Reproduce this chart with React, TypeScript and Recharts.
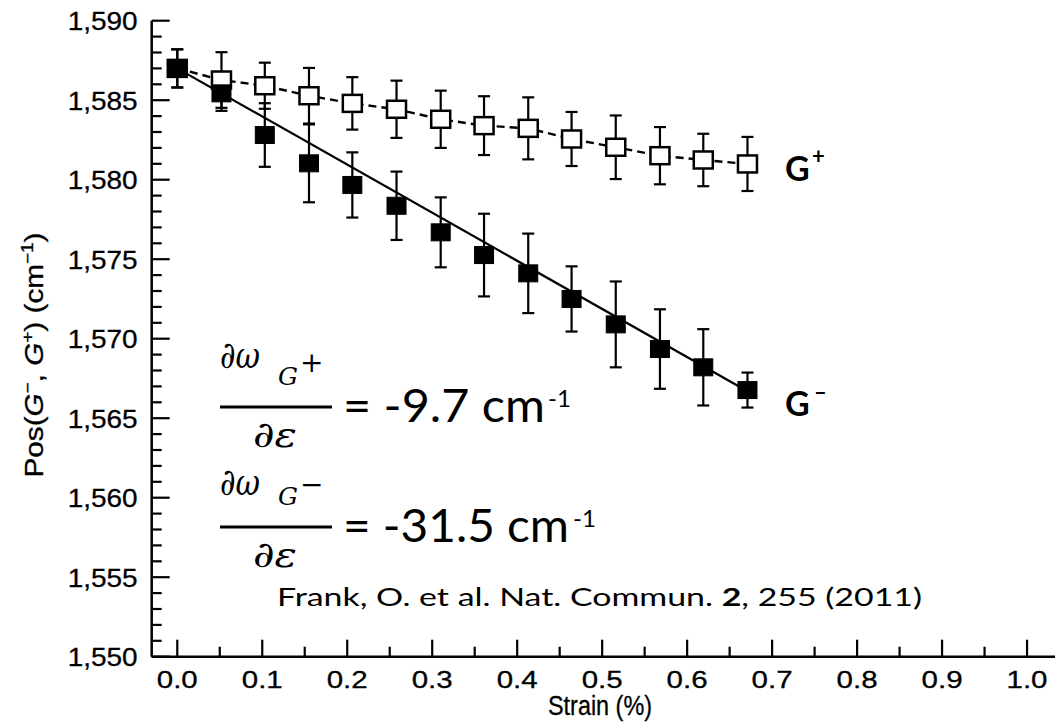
import React from 'react';
import { ComposedChart, Scatter, XAxis, YAxis, ErrorBar } from 'recharts';

// ---- data ----
const strain = [0, 0.052, 0.103, 0.155, 0.206, 0.258, 0.31, 0.361, 0.413, 0.464, 0.516, 0.568, 0.619, 0.671];
const gPlus = [1587.0, 1586.27, 1585.91, 1585.28, 1584.8, 1584.43, 1583.8, 1583.4, 1583.23, 1582.56, 1582.04, 1581.51, 1581.24, 1580.99];
const gPlusErr = [1.2, 1.75, 1.45, 1.75, 1.65, 1.8, 1.8, 1.85, 1.95, 1.7, 2.0, 1.8, 1.65, 1.7];
const gMinus = [1587.0, 1585.43, 1582.81, 1581.03, 1579.67, 1578.36, 1576.69, 1575.26, 1574.11, 1572.5, 1570.9, 1569.35, 1568.2, 1566.77];
const gMinusErr = [1.2, 1.1, 2.0, 2.45, 2.05, 2.15, 2.2, 2.6, 2.5, 2.05, 2.7, 2.5, 2.4, 1.1];
const fitX = [0, 0.671];
const fitY = [1587.0, 1566.7];
const xMajorTicks = [0, 0.1, 0.2, 0.3, 0.4, 0.5, 0.6, 0.7, 0.8, 0.9, 1.0];
const yMajorTicks = [1550, 1555, 1560, 1565, 1570, 1575, 1580, 1585, 1590];
const xTickLabels = ['0.0', '0.1', '0.2', '0.3', '0.4', '0.5', '0.6', '0.7', '0.8', '0.9', '1.0'];
const yTickLabels = ['1,550', '1,555', '1,560', '1,565', '1,570', '1,575', '1,580', '1,585', '1,590'];

const plusData = strain.map((x, i) => ({ x, y: gPlus[i], err: gPlusErr[i] }));
const minusData = strain.map((x, i) => ({ x, y: gMinus[i], err: gMinusErr[i] }));
const fitData = fitX.map((x, i) => ({ x, y: fitY[i] }));

// all tick positions (majors plus the minor ticks between them)
const xTicks: number[] = [];
for (let i = 0; i < xMajorTicks.length; i++) {
  xTicks.push(xMajorTicks[i]);
  if (i < xMajorTicks.length - 1) xTicks.push((xMajorTicks[i] + xMajorTicks[i + 1]) / 2);
}
const yTicks: number[] = [];
for (let v = yMajorTicks[0]; v <= yMajorTicks[yMajorTicks.length - 1]; v += 1) yTicks.push(v);

const AXIS_FONT = '"Liberation Sans", Arial, Helvetica, sans-serif';
const TEXT_FONT = 'Lato, "Open Sans", sans-serif';
const MATH_FONT = '"DejaVu Serif", "Liberation Serif", serif';

const YTick = (props: any) => {
  const { x, y, payload } = props;
  const v = payload.value;
  const mi = yMajorTicks.indexOf(v);
  const major = mi >= 0;
  return (
    <g>
      <line x1={x} x2={x + (major ? 18 : 10)} y1={y} y2={y} stroke="#000" strokeWidth={2.2} />
      {major && (
        <text x={x - 14 - 70} y={y + 9.3} textLength={70} lengthAdjust="spacingAndGlyphs"
          fontFamily={AXIS_FONT} fontSize={26} fill="#000" stroke="#000" strokeWidth={0.3}>{yTickLabels[mi]}</text>
      )}
    </g>
  );
};

const XTick = (props: any) => {
  const { x, y, payload } = props;
  const v = payload.value;
  const mi = xMajorTicks.findIndex((t) => Math.abs(t - v) < 1e-6);
  const major = mi >= 0;
  return (
    <g>
      <line x1={x} x2={x} y1={y} y2={y - (major ? 17 : 10)} stroke="#000" strokeWidth={2.2} />
      {major && (
        <text x={x - 20.5} y={y + 31.3} textLength={41} lengthAdjust="spacingAndGlyphs"
          fontFamily={AXIS_FONT} fontSize={24} fill="#000" stroke="#000" strokeWidth={0.3}>{xTickLabels[mi]}</text>
      )}
    </g>
  );
};

const OpenSquare = (props: any) => {
  const { cx, cy } = props;
  return <rect x={cx - 9.5} y={cy - 8.5} width={19} height={17} fill="#fff" stroke="#000" strokeWidth={2.5} />;
};
const FilledSquare = (props: any) => {
  const { cx, cy } = props;
  return <rect x={cx - 9.5} y={cy - 8.5} width={19} height={17} fill="#000" stroke="#000" strokeWidth={1} />;
};
const NoShape = () => <g />;

export default function App() {
  return (
    <div style={{ position: 'absolute', left: 0, top: 0, width: 1055, height: 728, background: '#fff' }}>
      <ComposedChart width={1055} height={728}
        margin={{ top: 20.7, right: 0, bottom: 41.3, left: 91.7 }}>
        <XAxis type="number" dataKey="x" domain={[-0.0301, 1.0329]} allowDataOverflow
          ticks={xTicks} interval={0} tickSize={0} tickMargin={0} tickLine={false}
          tick={<XTick />} height={30}
          axisLine={{ stroke: '#000', strokeWidth: 2.5 }} />
        <YAxis type="number" dataKey="y" domain={[1550, 1590]} allowDataOverflow
          ticks={yTicks} interval={0} tickSize={0} tickMargin={0} tickLine={false}
          tick={<YTick />} width={60}
          axisLine={{ stroke: '#000', strokeWidth: 2.5 }} />

        {/* G+ : dashed connecting line and error bars */}
        <Scatter data={plusData} shape={NoShape} isAnimationActive={false}
          line={{ stroke: '#000', strokeWidth: 2.4, strokeDasharray: '8 5' }} lineType="joint">
          <ErrorBar dataKey="err" direction="y" width={6} stroke="#000" strokeWidth={2.2} isAnimationActive={false} />
        </Scatter>
        {/* G+ open squares */}
        <Scatter data={plusData} shape={OpenSquare} isAnimationActive={false} />

        {/* G- linear fit line */}
        <Scatter data={fitData} shape={NoShape} isAnimationActive={false}
          line={{ stroke: '#000', strokeWidth: 2.2 }} lineType="joint" />
        {/* G- error bars */}
        <Scatter data={minusData} shape={NoShape} isAnimationActive={false}>
          <ErrorBar dataKey="err" direction="y" width={6} stroke="#000" strokeWidth={2.2} isAnimationActive={false} />
        </Scatter>
        {/* G- filled squares */}
        <Scatter data={minusData} shape={FilledSquare} isAnimationActive={false} />
      </ComposedChart>

      <svg width={1055} height={728} style={{ position: 'absolute', left: 0, top: 0, pointerEvents: 'none' }}>
        {/* axis titles */}
        <text transform="translate(43,355) rotate(-90)" textAnchor="middle" fontFamily={AXIS_FONT}
          fontSize={25} fill="#000" stroke="#000" strokeWidth={0.3} textLength={245} lengthAdjust="spacingAndGlyphs">
          Pos(<tspan fontStyle="italic">G</tspan><tspan fontSize={16} dy={-10}>−</tspan><tspan dy={10}>, </tspan>
          <tspan fontStyle="italic">G</tspan><tspan fontSize={16} dy={-10}>+</tspan><tspan dy={10}>) (cm</tspan>
          <tspan fontSize={16} dy={-10}>−1</tspan><tspan dy={10}>)</tspan>
        </text>
        <text x={548} y={715} fontFamily={AXIS_FONT} fontSize={27} fill="#000" stroke="#000" strokeWidth={0.3}
          textLength={104} lengthAdjust="spacingAndGlyphs">Strain (%)</text>

        {/* series labels */}
        <text x={785} y={181} fontFamily={TEXT_FONT} fontWeight="bold" fontSize={34} fill="#000">G</text>
        <text x={812} y={164} fontFamily={TEXT_FONT} fontWeight="bold" fontSize={22} fill="#000">+</text>
        <text x={785} y={416} fontFamily={TEXT_FONT} fontWeight="bold" fontSize={34} fill="#000">G</text>
        <text x={814} y={400} fontFamily={TEXT_FONT} fontWeight="bold" fontSize={22} fill="#000">–</text>

        {/* equation 1 */}
        <text x={220} y={368} fontFamily={MATH_FONT} fontStyle="italic" fontSize={38} fill="#000"
          textLength={40} lengthAdjust="spacingAndGlyphs">∂ω</text>
        <text x={278} y={385} fontFamily={MATH_FONT} fontStyle="italic" fontSize={25} fill="#000">G</text>
        <text x={300} y={372} fontFamily={MATH_FONT} fontSize={28} fill="#000">+</text>
        <line x1={220} x2={332} y1={407} y2={407} stroke="#000" strokeWidth={3} />
        <text x={253} y={447} fontFamily={MATH_FONT} fontStyle="italic" fontSize={36} fill="#000"
          textLength={44} lengthAdjust="spacingAndGlyphs">∂ε</text>
        <text x={343} y={422} fontFamily={TEXT_FONT} fontSize={46} fill="#000"
          textLength={202} lengthAdjust="spacingAndGlyphs">= -9.7 cm</text>
        <text x={548} y={407} fontFamily={TEXT_FONT} fontSize={24} fill="#000">-1</text>

        {/* equation 2 */}
        <text x={220} y={495} fontFamily={MATH_FONT} fontStyle="italic" fontSize={38} fill="#000"
          textLength={40} lengthAdjust="spacingAndGlyphs">∂ω</text>
        <text x={278} y={505} fontFamily={MATH_FONT} fontStyle="italic" fontSize={25} fill="#000">G</text>
        <text x={300} y={494} fontFamily={MATH_FONT} fontSize={28} fill="#000">−</text>
        <line x1={220} x2={332} y1={527} y2={527} stroke="#000" strokeWidth={3} />
        <text x={253} y={567} fontFamily={MATH_FONT} fontStyle="italic" fontSize={36} fill="#000"
          textLength={44} lengthAdjust="spacingAndGlyphs">∂ε</text>
        <text x={343} y={542} fontFamily={TEXT_FONT} fontSize={46} fill="#000"
          textLength={226} lengthAdjust="spacingAndGlyphs">= -31.5 cm</text>
        <text x={573} y={527} fontFamily={TEXT_FONT} fontSize={24} fill="#000">-1</text>

        {/* citation */}
        <text x={277} y={606} fontFamily={TEXT_FONT} fontSize={25} fill="#000"
          textLength={645} lengthAdjust="spacingAndGlyphs">
          Frank, O. et al. Nat. Commun. <tspan fontWeight="bold">2</tspan>, 255 (2011)
        </text>
      </svg>
    </div>
  );
}
